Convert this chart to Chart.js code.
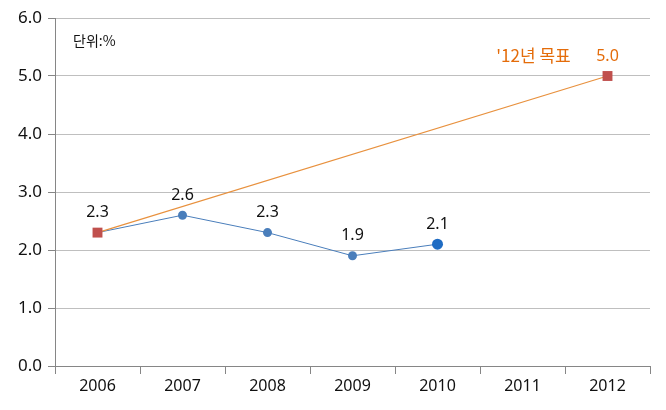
<!DOCTYPE html>
<html>
<head>
<meta charset="utf-8">
<script src="https://cdn.jsdelivr.net/npm/chart.js@4"></script>
<style>
  html, body { margin: 0; padding: 0; background: #fff; }
  #wrap { width: 666px; height: 410px; }
</style>
</head>
<body>
<div id="wrap"><canvas id="c"></canvas></div>
<script>
const years = ["2006", "2007", "2008", "2009", "2010", "2011", "2012"];
const actual = [2.3, 2.6, 2.3, 1.9, 2.1, null, null];
const target = [2.3, null, null, null, null, null, 5.0];
const yTicks = [0, 1, 2, 3, 4, 5, 6];
const unitText = "단위:%";
const targetText = "'12년 목표";

const font = "'Noto Sans', 'Noto Sans CJK KR', sans-serif";

const labelPlugin = {
  id: "pointLabels",
  afterDatasetsDraw(chart) {
    const ctx = chart.ctx;
    ctx.save();
    ctx.textAlign = "center";
    ctx.textBaseline = "bottom";
    // blue series labels
    const m0 = chart.getDatasetMeta(0);
    ctx.font = "16px " + font;
    ctx.fillStyle = "#111";
    m0.data.forEach((p, i) => {
      if (actual[i] == null) return;
      ctx.fillText(actual[i].toFixed(1), p.x, p.y - 12);
    });
    // target label
    const m1 = chart.getDatasetMeta(1);
    const last = m1.data[target.length - 1];
    ctx.fillStyle = "#E46C0A";
    ctx.fillText(target[target.length - 1].toFixed(1), last.x, last.y - 12);
    ctx.font = "17px 'Noto Sans CJK KR', sans-serif";
    ctx.fillText(targetText, last.x - 74, last.y - 12);
    // unit
    ctx.fillStyle = "#111";
    ctx.textAlign = "left";
    ctx.textBaseline = "middle";
    ctx.font = "14px 'Noto Sans CJK KR', sans-serif";
    ctx.fillText(unitText, chart.chartArea.left + 18, chart.chartArea.top + 23);
    ctx.restore();
  },
};

new Chart(document.getElementById("c"), {
  type: "line",
  data: {
    labels: years,
    datasets: [
      {
        label: "actual",
        data: actual,
        borderColor: "#4A7EBB",
        backgroundColor: "#4A7EBB",
        borderWidth: 1,
        pointRadius: [4.5, 4.5, 4.5, 4.5, 5.5, 0, 0],
        pointBackgroundColor: ["#4A7EBB", "#4A7EBB", "#4A7EBB", "#4A7EBB", "#1F6CC3", "#4A7EBB", "#4A7EBB"],
        pointBorderWidth: 0,
        order: 2,
      },
      {
        label: "target",
        data: target,
        spanGaps: true,
        borderColor: "#E8913E",
        backgroundColor: "#C0504D",
        borderWidth: 1.2,
        pointStyle: "rect",
        pointRadius: 7,
        pointBorderWidth: 0,
        order: 1,
      },
    ],
  },
  options: {
    responsive: true,
    maintainAspectRatio: false,
    animation: false,
    layout: { padding: { left: 0, right: 16, top: 18, bottom: 0 } },
    plugins: {
      legend: { display: false },
      tooltip: { enabled: false },
    },
    scales: {
      x: {
        offset: true,
        grid: {
          offset: true,
          drawOnChartArea: false,
          drawTicks: true,
          tickLength: 8,
          color: "#868686",
        },
        border: { color: "#868686" },
        ticks: { color: "#111", font: { size: 16, family: font }, padding: 3 },
        afterFit(scale) { scale.height = 44; },
      },
      y: {
        min: 0,
        max: 6,
        afterBuildTicks(scale) { scale.ticks = yTicks.map((v) => ({ value: v })); },
        grid: {
          color: "#BFBFBF",
          tickColor: "#868686",
          tickLength: 7,
        },
        border: { color: "#868686" },
        ticks: {
          color: "#111",
          font: { size: 17, family: font },
          padding: 6,
          callback: (v) => v.toFixed(1),
        },
        afterFit(scale) { scale.width = 55; },
      },
    },
  },
  plugins: [labelPlugin],
});
</script>
</body>
</html>
